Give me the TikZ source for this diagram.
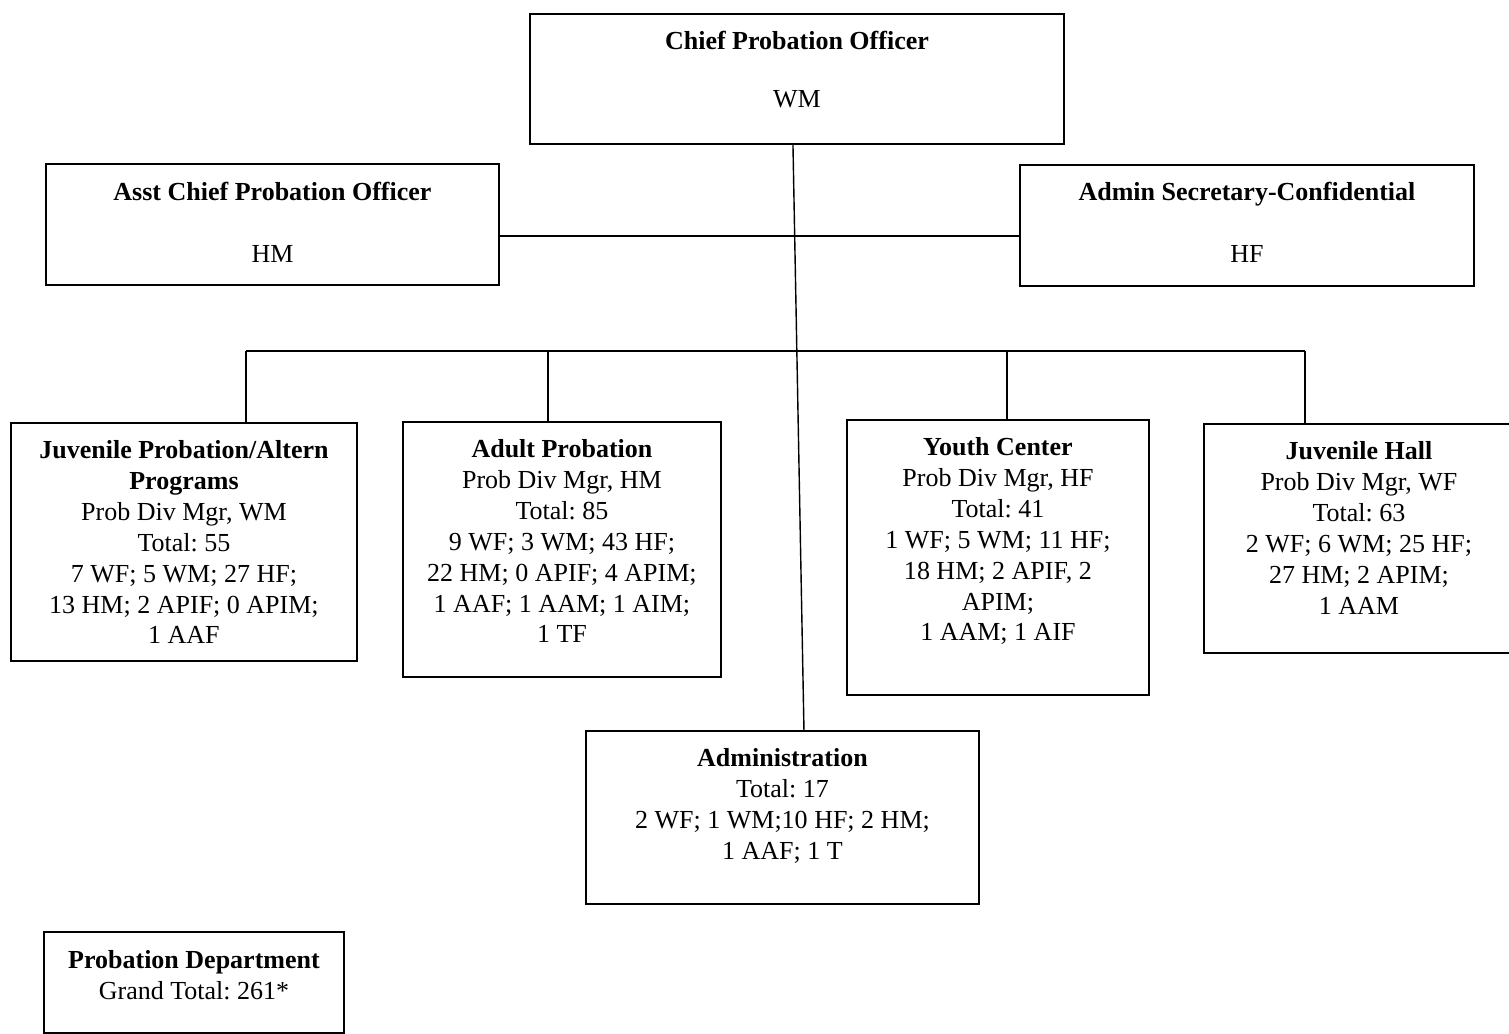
\documentclass[tikz,border=0pt]{standalone}
\usepackage{fontspec}
\setmainfont{Liberation Serif}
\usetikzlibrary{positioning}
\frenchspacing

\tikzset{
  unit/.style={draw, line width=1.1pt, inner sep=0pt, anchor=north west},
  unittext/.style={align=center, inner sep=0pt, font=\fontsize{14.8}{17.6}\selectfont},
  link/.style={line width=0.8pt},
  buslink/.style={line width=1.1pt},
}

\begin{document}
\begin{tikzpicture}
\useasboundingbox (0,0) rectangle (30.18,-20.68);

% top level
\node[unit, minimum width=10.68cm, minimum height=2.60cm] (chief) at (10.58,-0.26) {};
\node[unittext, below=0.36cm of chief.north] (chieftxt) {\textbf{Chief Probation Officer}\\[0.54cm] WM};

\node[unit, minimum width=9.06cm, minimum height=2.42cm] (asst) at (0.90,-3.26) {};
\node[unittext, below=0.38cm of asst.north] (assttxt) {\textbf{Asst Chief Probation Officer}\\[0.62cm] HM};

\node[unit, minimum width=9.08cm, minimum height=2.42cm] (secr) at (20.38,-3.28) {};
\node[unittext, below=0.36cm of secr.north] (secrtxt) {\textbf{Admin Secretary-Confidential}\\[0.62cm] HF};

% divisions
\node[unit, minimum width=6.92cm, minimum height=4.76cm] (juv) at (0.20,-8.44) {};
\node[unittext, below=0.36cm of juv.north] (juvtxt) {\textbf{Juvenile Probation/Altern}\\\textbf{Programs}\\
  Prob Div Mgr, WM\\Total: 55\\7 WF; 5 WM; 27 HF;\\13 HM; 2 APIF; 0 APIM;\\1 AAF};

\node[unit, minimum width=6.36cm, minimum height=5.10cm] (adult) at (8.04,-8.42) {};
\node[unittext, below=0.36cm of adult.north] (adulttxt) {\textbf{Adult Probation}\\Prob Div Mgr, HM\\Total: 85\\
  9 WF; 3 WM; 43 HF;\\22 HM; 0 APIF; 4 APIM;\\1 AAF; 1 AAM; 1 AIM;\\1 TF};

\node[unit, minimum width=6.04cm, minimum height=5.50cm] (youth) at (16.92,-8.38) {};
\node[unittext, below=0.36cm of youth.north] (youthtxt) {\textbf{Youth Center}\\Prob Div Mgr, HF\\Total: 41\\
  1 WF; 5 WM; 11 HF;\\18 HM; 2 APIF, 2\\APIM;\\1 AAM; 1 AIF};

\node[unit, minimum width=6.20cm, minimum height=4.58cm] (jhall) at (24.06,-8.46) {};
\node[unittext, below=0.36cm of jhall.north] (jhalltxt) {\textbf{Juvenile Hall}\\Prob Div Mgr, WF\\Total: 63\\
  2 WF; 6 WM; 25 HF;\\27 HM; 2 APIM;\\1 AAM};

\node[unit, minimum width=7.86cm, minimum height=3.46cm] (admin) at (11.70,-14.60) {};
\node[unittext, below=0.36cm of admin.north] (admintxt) {\textbf{Administration}\\Total: 17\\
  2 WF; 1 WM;10 HF; 2 HM;\\1 AAF; 1 T};

% summary
\node[unit, minimum width=6.00cm, minimum height=2.02cm] (dept) at (0.86,-18.62) {};
\node[unittext, below=0.38cm of dept.north] (depttxt) {\textbf{Probation Department}\\Grand Total: 261*};

% connectors
\draw[link] ([xshift=-0.08cm]chief.south) -- ([xshift=0.43cm]admin.north);
\draw[buslink] ([yshift=-0.24cm]asst.east) -- ([yshift=-0.24cm]asst.east -| secr.west);

\coordinate (bus1) at (4.92,-7.02);
\coordinate (bus2) at (10.96,-7.02);
\coordinate (bus3) at (20.14,-7.02);
\coordinate (bus4) at (26.10,-7.02);
\draw[buslink] (bus1) -- (bus4);
\foreach \b/\d in {bus1/juv, bus2/adult, bus3/youth, bus4/jhall}
  \draw[link] (\b) -- (\b |- \d.north);

\end{tikzpicture}
\end{document}
